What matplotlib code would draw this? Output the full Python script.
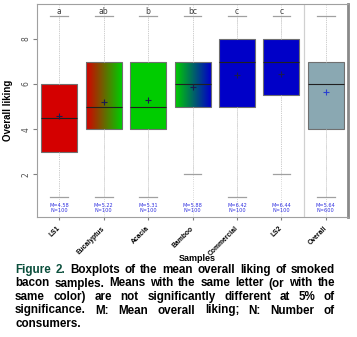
import matplotlib
matplotlib.use("Agg")
import matplotlib.pyplot as plt
import matplotlib.colors as mcolors
import numpy as np

# ── data ──
samples = ["LS1", "Eucalyptus", "Acacia", "Bamboo", "Commercial", "LS2", "Overall"]
q1      = [3, 4, 4, 5, 5, 5.5, 4]
medians = [4.5, 5, 5, 6, 7, 7, 6]
q3      = [6, 7, 7, 7, 8, 8, 7]
wlo     = [1, 1, 1, 2, 1, 2, 1]
whi     = [9, 9, 9, 9, 9, 9, 9]
means   = [4.58, 5.22, 5.31, 5.88, 6.42, 6.44, 5.64]
counts  = [100, 100, 100, 100, 100, 100, 600]
letters = ["a", "ab", "b", "bc", "c", "c", ""]

red, green, blue, grey_blue = "#d40000", "#00cc00", "#0000c8", "#8aa8b2"
# left/right colour of each box (gradient where they differ)
box_cols = [(red, red), (red, green), (green, green), (green, blue),
            (blue, blue), (blue, blue), (grey_blue, grey_blue)]

caption_lines = [
    "Figure 2. Boxplots of the mean overall liking of smoked",
    "bacon samples. Means with the same letter (or with the",
    "same color) are not significantly different at 5% of",
    "significance. M: Mean overall liking; N: Number of",
    "consumers.",
]

fig = plt.figure(figsize=(3.57, 3.37), dpi=100, facecolor="white")
ax = fig.add_axes([0.104, 0.356, 0.871, 0.632])

pos = np.arange(1, len(samples) + 1)
stats = [dict(med=m, q1=a, q3=b, whislo=lo, whishi=hi, mean=mu, fliers=[])
         for m, a, b, lo, hi, mu in zip(medians, q1, q3, wlo, whi, means)]

# dotted vertical guides behind everything
for p in pos:
    ax.axvline(p, color="#c8c8c8", lw=0.6, ls=":", zorder=0)
ax.axvline(6.5, color="#d0d0d0", lw=0.9, zorder=0)

bp = ax.bxp(stats, positions=pos, widths=0.81, patch_artist=True,
            showmeans=False, showfliers=False,
            boxprops=dict(edgecolor="#707070", linewidth=0.8),
            medianprops=dict(color="#202020", linewidth=0.8),
            whiskerprops=dict(color="#c8c8c8", linewidth=0.6, linestyle=":"),
            capprops=dict(color="#a0a0a0", linewidth=0.9),
            capwidths=0.4)

for i, box in enumerate(bp["boxes"]):
    c_left, c_right = box_cols[i]
    if c_left == c_right:
        box.set_facecolor(c_left)
    else:
        box.set_facecolor("none")
        cmap = mcolors.LinearSegmentedColormap.from_list("g", [c_left, c_right])
        grad = np.linspace(0, 1, 64).reshape(1, -1)
        im = ax.imshow(grad, cmap=cmap, aspect="auto", interpolation="bilinear",
                       extent=[pos[i] - 0.405, pos[i] + 0.405, q1[i], q3[i]],
                       zorder=1.5)
        im.set_clip_path(box)
        box.set_zorder(2)

# mean markers
for i in range(len(samples)):
    col = "#2a3fd0" if samples[i] == "Overall" else "#1a1a50"
    ax.plot(pos[i], means[i], marker="+", ms=5, mew=0.8, color=col, zorder=4)

# letters and M/N labels
for i in range(len(samples)):
    if letters[i]:
        ax.text(pos[i], 9.02, letters[i], ha="center", va="bottom",
                fontsize=5.5, color="#404040")
    ax.text(pos[i], 0.5, f"M={means[i]:.2f}\nN={counts[i]}", ha="center",
            va="center", fontsize=3.6, color="#3030e0", linespacing=1.1)

ax.set_xlim(0.5, 7.5)
ax.set_ylim(0.1, 9.55)
ax.set_yticks([2, 4, 6, 8])
ax.set_yticklabels(["2", "4", "6", "8"], rotation=90, va="center",
                   fontsize=5.5, color="#505050")
ax.set_xticks(pos)
ax.set_xticklabels(samples, rotation=45, ha="right", va="center",
                   rotation_mode="anchor",
                   fontsize=4.9, fontweight="bold", family="Liberation Sans")
ax.tick_params(axis="x", length=2.5, color="#808080", pad=5)
ax.tick_params(axis="y", length=3, color="#808080", pad=2)
for s in ["left", "bottom", "top"]:
    ax.spines[s].set_color("#a0a0a0")
    ax.spines[s].set_linewidth(0.8)
ax.spines["right"].set_color("#8a8a8a")
ax.spines["right"].set_linewidth(2)

ax.set_ylabel("Overall liking", fontsize=7, fontweight="bold",
              family="Liberation Sans", labelpad=6)
fig.text(0.552, 0.232, "Samples", ha="center", va="center", fontsize=6.5,
         fontweight="bold", family="Liberation Sans")

# ── justified caption ──
fig.canvas.draw()
renderer = fig.canvas.get_renderer()
x_left, x_right = 15, 335
y_first, line_step = 270, 13.5
cap_kw = dict(fontsize=8.4, fontweight="bold", family="Liberation Sans",
              va="center", ha="left")
for li, line in enumerate(caption_lines):
    words = line.split(" ")
    ypx = 337 - (y_first + li * line_step)
    arts = []
    for wi, w in enumerate(words):
        col = "#0b4f3c" if (li == 0 and wi < 2) else "black"
        t = fig.text(0, ypx / 337, w, color=col, **cap_kw)
        arts.append(t)
    widths = [t.get_window_extent(renderer).width for t in arts]
    if li < len(caption_lines) - 1:
        gap = (x_right - x_left - sum(widths)) / (len(words) - 1)
    else:
        gap = 3
    xc = x_left
    for t, w in zip(arts, widths):
        t.set_x(xc / 357)
        xc += w + gap

fig.savefig("out.png", dpi=100, facecolor="white")
